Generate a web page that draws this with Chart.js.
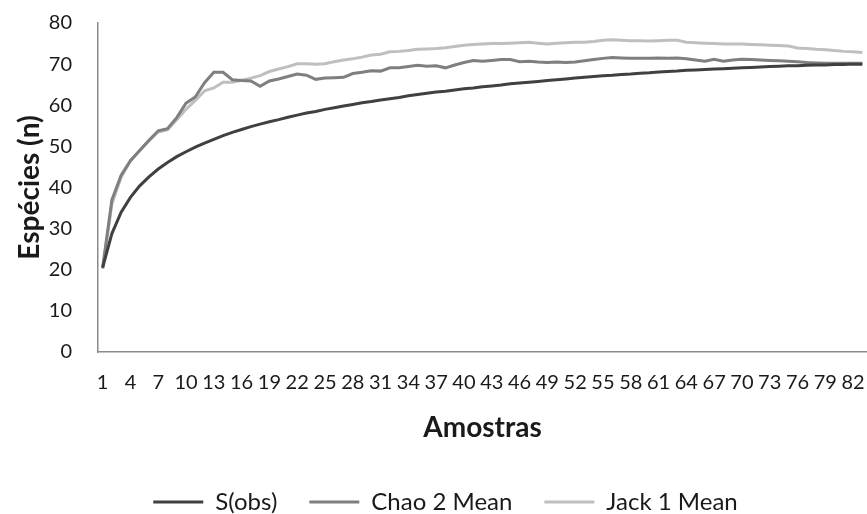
<!DOCTYPE html>
<html>
<head>
<meta charset="utf-8">
<script src="https://cdn.jsdelivr.net/npm/chart.js@4"></script>
<style>
  html, body { margin: 0; padding: 0; background: #fff; overflow: hidden; }
</style>
</head>
<body>
<canvas id="myChart" width="867" height="514"></canvas>
<script>
const amostras = [
    1, 2, 3, 4, 5, 6, 7, 8, 9, 10, 11, 12, 13, 14, 15, 16, 17, 18, 19, 20,
    21, 22, 23, 24, 25, 26, 27, 28, 29, 30, 31, 32, 33, 34, 35, 36, 37, 38, 39, 40,
    41, 42, 43, 44, 45, 46, 47, 48, 49, 50, 51, 52, 53, 54, 55, 56, 57, 58, 59, 60,
    61, 62, 63, 64, 65, 66, 67, 68, 69, 70, 71, 72, 73, 74, 75, 76, 77, 78, 79, 80,
    81, 82, 83
];

const sObs = [
    20.5, 28.8, 34.0, 37.6, 40.4, 42.6, 44.5, 46.1, 47.5, 48.7,
    49.8, 50.8, 51.7, 52.6, 53.4, 54.1, 54.8, 55.4, 56.0, 56.5,
    57.1, 57.6, 58.1, 58.5, 59.0, 59.4, 59.8, 60.2, 60.6, 60.9,
    61.3, 61.6, 61.9, 62.3, 62.6, 62.9, 63.2, 63.4, 63.7, 64.0,
    64.2, 64.5, 64.7, 64.9, 65.2, 65.4, 65.6, 65.8, 66.0, 66.2,
    66.4, 66.6, 66.8, 67.0, 67.2, 67.3, 67.5, 67.6, 67.8, 67.9,
    68.1, 68.2, 68.3, 68.5, 68.6, 68.7, 68.8, 68.9, 69.0, 69.1,
    69.2, 69.3, 69.4, 69.5, 69.6, 69.6, 69.7, 69.8, 69.8, 69.9,
    69.9, 70.0, 70.0
];

const chao2 = [
    20.5, 37.0, 43.0, 46.5, 49.0, 51.5, 53.8, 54.3, 57.0, 60.5,
    62.0, 65.5, 68.0, 68.0, 66.2, 66.0, 65.9, 64.6, 65.9, 66.4,
    67.0, 67.6, 67.3, 66.3, 66.6, 66.7, 66.8, 67.7, 68.0, 68.4,
    68.3, 69.1, 69.1, 69.4, 69.7, 69.5, 69.6, 69.1, 69.8, 70.4,
    70.9, 70.7, 70.9, 71.1, 71.1, 70.6, 70.7, 70.5, 70.4, 70.5,
    70.4, 70.5, 70.8, 71.1, 71.4, 71.6, 71.5, 71.4, 71.4, 71.4,
    71.5, 71.4, 71.5, 71.3, 71.0, 70.7, 71.2, 70.7, 71.0, 71.2,
    71.1, 71.0, 70.9, 70.8, 70.7, 70.6, 70.4, 70.3, 70.2, 70.2,
    70.2, 70.2, 70.2
];

const jack1 = [
    20.2, 36.0, 42.5, 46.5, 49.0, 51.3, 53.5, 54.0, 56.5, 59.0,
    61.2, 63.5, 64.2, 65.6, 65.6, 66.1, 66.6, 67.2, 68.2, 68.8,
    69.4, 70.1, 70.1, 70.0, 70.1, 70.6, 71.0, 71.3, 71.7, 72.2,
    72.4, 73.0, 73.1, 73.3, 73.6, 73.7, 73.8, 74.0, 74.3, 74.6,
    74.8, 74.9, 75.0, 75.0, 75.1, 75.2, 75.3, 75.1, 74.9, 75.1,
    75.2, 75.3, 75.3, 75.5, 75.8, 75.9, 75.8, 75.7, 75.7, 75.6,
    75.7, 75.8, 75.8, 75.3, 75.2, 75.1, 75.0, 74.9, 74.9, 74.9,
    74.8, 74.7, 74.6, 74.5, 74.4, 73.9, 73.8, 73.6, 73.5, 73.3,
    73.1, 73.0, 72.8
];

const seriesNames = ['S(obs)', 'Chao 2 Mean', 'Jack 1 Mean'];
const seriesColors = ['#404040', '#7f7f7f', '#bfbfbf'];
const yTicks = [0, 10, 20, 30, 40, 50, 60, 70, 80];

const ctx = document.getElementById('myChart');
const FONT = 'Lato';
const TEXT = '#1a1a1a';
const AXIS = '#8c8c8c';

// nudge the legend a little to the right, like the original
const legendShift = {
    id: 'legendShift',
    afterLayout(chart) {
        chart.legend.left += 12;
        chart.legend.right += 12;
    }
};

const chartDemo = new Chart(ctx, {
    type: 'line',
    data: {
        labels: amostras,
        datasets: [sObs, chao2, jack1].map((data, i) => ({
            label: seriesNames[i],
            data: data,
            borderColor: seriesColors[i],
            backgroundColor: seriesColors[i],
            borderWidth: 3,
            pointRadius: 0,
            pointHoverRadius: 0,
            tension: 0,
            fill: false
        }))
    },
    plugins: [legendShift],
    options: {
        responsive: false,
        animation: false,
        devicePixelRatio: 1,
        layout: {
            padding: { top: 23, right: 0, bottom: 0, left: 0 }
        },
        plugins: {
            tooltip: { enabled: false },
            legend: {
                position: 'bottom',
                maxHeight: 56,
                labels: {
                    usePointStyle: true,
                    pointStyle: 'line',
                    pointStyleWidth: 50,
                    padding: 32,
                    color: TEXT,
                    font: { family: FONT, size: 24 }
                }
            }
        },
        scales: {
            x: {
                type: 'category',
                offset: true,
                // tick marks hidden, but their length spaces the labels (ticks.padding would eat the right edge)
                grid: { display: false, drawTicks: true, tickLength: 19 },
                border: { display: true, color: AXIS, width: 1.5 },
                ticks: {
                    autoSkip: false,
                    maxRotation: 0,
                    minRotation: 0,
                    padding: 0,
                    color: TEXT,
                    font: { family: FONT, size: 20 },
                    // only every third sample gets a label
                    callback: function (value, index) {
                        return index % 3 === 0 ? amostras[index] : '';
                    }
                },
                title: {
                    display: true,
                    text: 'Amostras',
                    color: TEXT,
                    font: { family: FONT, size: 28, weight: 'bold' },
                    padding: { top: 0, bottom: 13 }
                },
                afterFit: (scale) => { scale.height = 106; }
            },
            y: {
                min: 0,
                max: 80,
                grid: { display: false, drawTicks: true, tickLength: 26 },
                border: { display: true, color: AXIS, width: 1.5 },
                afterBuildTicks: (scale) => {
                    scale.ticks = yTicks.map(v => ({ value: v }));
                },
                ticks: {
                    padding: 0,
                    color: TEXT,
                    font: { family: FONT, size: 20 }
                },
                title: {
                    display: true,
                    text: 'Espécies (n)',
                    color: TEXT,
                    font: { family: FONT, size: 28, weight: 'bold' },
                    padding: { top: 13, bottom: 0 }
                },
                afterFit: (scale) => { scale.width = 98; }
            }
        }
    }
});
</script>
</body>
</html>
